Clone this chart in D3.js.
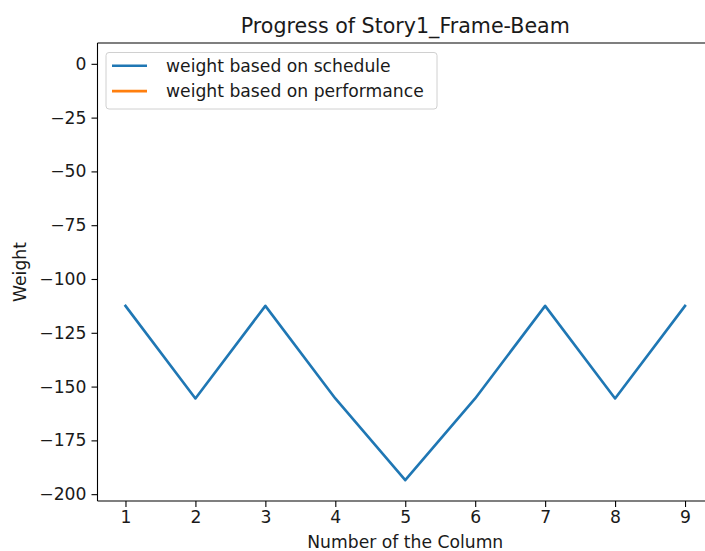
<!DOCTYPE html>
<html>
<head>
<meta charset="utf-8">
<script src="https://cdn.jsdelivr.net/npm/d3@7"></script>
<style>
  html, body { margin: 0; padding: 0; background: #fff; overflow: hidden; }
  svg { display: block; font-family: "DejaVu Sans", sans-serif; }
</style>
</head>
<body>
<svg id="chart" width="705" height="551"></svg>
<script>
// ---- data ----
const columns = [1, 2, 3, 4, 5, 6, 7, 8, 9];
const weightSchedule = [-112.5, -155.5, -112.5, -155.5, -193.5, -155.5, -112.5, -155.5, -112.5];
const weightPerformance = []; // no visible values in the reference
const xTicks = [1, 2, 3, 4, 5, 6, 7, 8, 9];
const yTicks = [0, -25, -50, -75, -100, -125, -150, -175, -200];
const seriesNames = ["weight based on schedule", "weight based on performance"];
const seriesColors = ["#1f77b4", "#ff7f0e"];

// ---- layout ----
const svg = d3.select("#chart");
const m = { left: 97.5, top: 43, right: 713, bottom: 501 };
const FS = 17.2;

// matplotlib-style 5% margins
const xmin = d3.min(columns), xmax = d3.max(columns);
const xpad = (xmax - xmin) * 0.05;
const x = d3.scaleLinear().domain([xmin - xpad, xmax + xpad]).range([m.left, m.right]);

const allY = weightSchedule.concat(weightPerformance).concat([0]);
const ymin = d3.min(allY), ymax = d3.max(allY);
const ypad = (ymax - ymin) * 0.05;
const y = d3.scaleLinear().domain([ymin - ypad, ymax + ypad]).range([m.bottom, m.top]);

const fmt = d => (d < 0 ? "\u2212" + Math.abs(d) : String(d));

// axes
const xAxis = svg.append("g")
  .attr("transform", `translate(0,${m.bottom})`)
  .call(d3.axisBottom(x).tickValues(xTicks).tickFormat(fmt).tickSize(6).tickPadding(4));
const yAxis = svg.append("g")
  .attr("transform", `translate(${m.left},0)`)
  .call(d3.axisLeft(y).tickValues(yTicks).tickFormat(fmt).tickSize(6).tickPadding(5));

[xAxis, yAxis].forEach(g => {
  g.select(".domain").remove();
  g.selectAll("line").attr("stroke", "#000").attr("stroke-width", 1.1);
  g.selectAll("text").attr("fill", "#1a1a1a").style("font-size", FS + "px")
    .style("font-family", "DejaVu Sans, sans-serif");
});

// series lines
const line = d3.line().x((d, i) => x(columns[i])).y(d => y(d));
svg.append("path").datum(weightSchedule)
  .attr("fill", "none").attr("stroke", seriesColors[0]).attr("stroke-width", 2.6)
  .attr("stroke-linejoin", "round").attr("stroke-linecap", "square")
  .attr("d", line);
if (weightPerformance.length > 1) {
  svg.append("path").datum(weightPerformance)
    .attr("fill", "none").attr("stroke", seriesColors[1]).attr("stroke-width", 2.6)
    .attr("d", line);
}

// spines (left, top, bottom; right spine lies outside the visible canvas)
const sp = svg.append("g").attr("stroke", "#000").attr("stroke-width", 1.1);
sp.append("line").attr("x1", m.left).attr("x2", m.left).attr("y1", m.top).attr("y2", m.bottom);
sp.append("line").attr("x1", m.left).attr("x2", m.right).attr("y1", m.top).attr("y2", m.top);
sp.append("line").attr("x1", m.left).attr("x2", m.right).attr("y1", m.bottom).attr("y2", m.bottom);

// legend
const lg = svg.append("g");
lg.append("rect")
  .attr("x", 106).attr("y", 52.5).attr("height", 56.5).attr("width", 331)
  .attr("rx", 3).attr("fill", "#fff").attr("fill-opacity", 0.8)
  .attr("stroke", "#d0d0d0").attr("stroke-width", 1);
seriesNames.forEach((name, i) => {
  const cy = 65.7 + i * 25.4;
  lg.append("line").attr("x1", 112).attr("x2", 147).attr("y1", cy).attr("y2", cy)
    .attr("stroke", seriesColors[i]).attr("stroke-width", 2.6);
  lg.append("text").attr("x", 166).attr("y", cy).attr("dy", "0.35em")
    .attr("fill", "#1a1a1a").style("font-size", FS + "px").text(name);
});

// title and labels
svg.append("text").attr("x", (m.left + m.right) / 2).attr("y", 33)
  .attr("text-anchor", "middle").attr("fill", "#1a1a1a").style("font-size", "20.6px")
  .text("Progress of Story1_Frame-Beam");
svg.append("text").attr("x", (m.left + m.right) / 2).attr("y", 548)
  .attr("text-anchor", "middle").attr("fill", "#1a1a1a").style("font-size", FS + "px")
  .text("Number of the Column");
svg.append("text").attr("transform", `translate(26,${(m.top + m.bottom) / 2}) rotate(-90)`)
  .attr("text-anchor", "middle").attr("fill", "#1a1a1a").style("font-size", FS + "px")
  .text("Weight");
</script>
</body>
</html>
